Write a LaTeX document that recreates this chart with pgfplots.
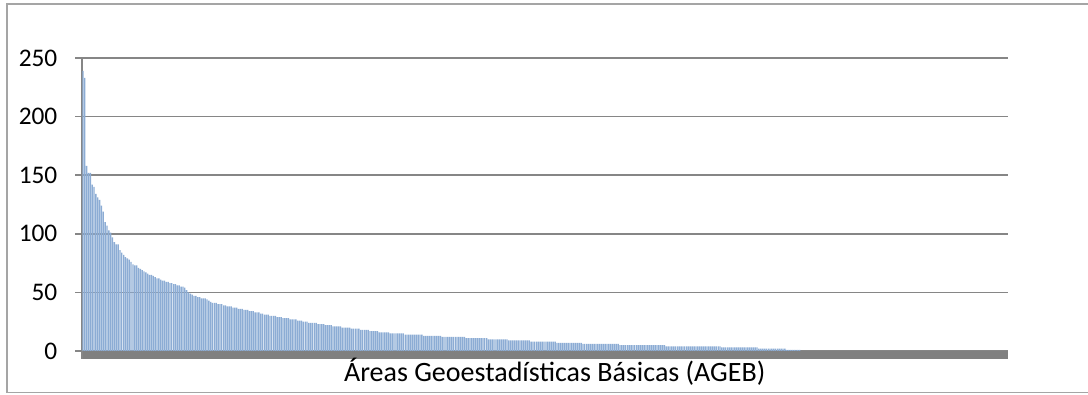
\documentclass[border=0pt]{standalone}
\usepackage{pgfplots}
\pgfplotsset{compat=1.18}
\usepackage{pgfplotstable}
\usepackage{fontspec}
\setmainfont{Carlito}
\definecolor{barblue}{RGB}{140,172,212}
\definecolor{gridgray}{RGB}{134,134,134}
\definecolor{bandgray}{RGB}{128,128,128}
\definecolor{framegray}{RGB}{165,165,165}
\pgfplotstableread[row sep=\\]{
y\\
239\\233\\158\\152\\152\\142\\140\\134\\131\\129\\
124\\119\\110\\107\\103\\101\\97\\93\\91\\91\\
86\\84\\82\\80\\79\\78\\76\\74\\73\\73\\
71\\70\\69\\68\\67\\66\\65\\65\\64\\63\\
62\\62\\61\\60\\60\\59\\59\\58\\58\\57\\
57\\56\\56\\55\\55\\54\\52\\50\\49\\48\\
47\\47\\46\\46\\45\\45\\45\\44\\43\\42\\
41\\41\\41\\40\\40\\40\\39\\39\\38\\38\\
38\\37\\37\\37\\36\\36\\36\\35\\35\\35\\
34\\34\\34\\33\\33\\33\\32\\32\\31\\31\\
31\\30\\30\\30\\30\\29\\29\\29\\28\\28\\
28\\28\\27\\27\\27\\27\\26\\26\\26\\25\\
25\\25\\24\\24\\24\\24\\24\\23\\23\\23\\
23\\22\\22\\22\\22\\21\\21\\21\\21\\21\\
20\\20\\20\\20\\20\\19\\19\\19\\19\\19\\
18\\18\\18\\18\\18\\17\\17\\17\\17\\17\\
16\\16\\16\\16\\16\\16\\15\\15\\15\\15\\
15\\15\\15\\15\\14\\14\\14\\14\\14\\14\\
14\\14\\14\\14\\13\\13\\13\\13\\13\\13\\
13\\13\\13\\13\\12\\12\\12\\12\\12\\12\\
12\\12\\12\\12\\12\\12\\12\\11\\11\\11\\
11\\11\\11\\11\\11\\11\\11\\11\\11\\10\\
10\\10\\10\\10\\10\\10\\10\\10\\10\\10\\
9\\9\\9\\9\\9\\9\\9\\9\\9\\9\\
9\\9\\8\\8\\8\\8\\8\\8\\8\\8\\
8\\8\\8\\8\\8\\8\\7\\7\\7\\7\\
7\\7\\7\\7\\7\\7\\7\\7\\7\\7\\
6\\6\\6\\6\\6\\6\\6\\6\\6\\6\\
6\\6\\6\\6\\6\\6\\6\\6\\6\\6\\
5\\5\\5\\5\\5\\5\\5\\5\\5\\5\\
5\\5\\5\\5\\5\\5\\5\\5\\5\\5\\
5\\5\\5\\5\\5\\4\\4\\4\\4\\4\\
4\\4\\4\\4\\4\\4\\4\\4\\4\\4\\
4\\4\\4\\4\\4\\4\\4\\4\\4\\4\\
4\\4\\4\\4\\4\\3\\3\\3\\3\\3\\
3\\3\\3\\3\\3\\3\\3\\3\\3\\3\\
3\\3\\3\\3\\3\\2\\2\\2\\2\\2\\
2\\2\\2\\2\\2\\2\\2\\2\\2\\2\\
1\\1\\1\\1\\1\\1\\1\\1\\0\\0\\
0\\0\\0\\0\\0\\0\\0\\0\\0\\0\\
0\\0\\0\\0\\0\\0\\0\\0\\0\\0\\
0\\0\\0\\0\\0\\0\\0\\0\\0\\0\\
0\\0\\0\\0\\0\\0\\0\\0\\0\\0\\
0\\0\\0\\0\\0\\0\\0\\0\\0\\0\\
0\\0\\0\\0\\0\\0\\0\\0\\0\\0\\
0\\0\\0\\0\\0\\0\\0\\0\\0\\0\\
0\\0\\0\\0\\0\\0\\0\\0\\0\\0\\
0\\0\\0\\0\\0\\0\\0\\0\\0\\0\\
0\\0\\0\\0\\0\\0\\0\\0\\0\\0\\
0\\0\\0\\0\\0\\0\\0\\0\\0\\0\\
}\agebdata
\begin{document}
\begin{tikzpicture}[x=1pt,y=1pt]
\path[use as bounding box] (0,0) rectangle (816,295.5);
\draw[framegray, line width=1.1pt] (830,292.5) -- (5.25,292.5) -- (5.25,1.2) -- (830,1.2);
\begin{axis}[
  at={(61.5pt,32.25pt)}, anchor=south west,
  scale only axis, width=694.5pt, height=219.75pt,
  xmin=-0.5, xmax=499.5, ymin=0, ymax=250,
  ytick={0,50,100,150,200,250}, xtick=\empty,
  axis y line*=left, axis x line=none,
  y axis line style={gridgray, line width=1.6pt, -},
  ymajorgrids, grid style={gridgray, line width=1.1pt},
  tick align=outside, major tick length=5pt,
  tick style={gridgray, line width=1.1pt},
  /pgf/number format/assume math mode=true,
  yticklabel style={font=\fontsize{19}{22}\selectfont, text=black, xshift=-10pt},
  clip=false,
]
\addplot[ybar, fill=barblue, draw=none, bar width=0.72] table[x expr=\coordindex, y=y] {\agebdata};
\fill[bandgray] (axis cs:-0.5,0) rectangle (axis cs:499.5,-6.8);
\draw[gridgray, line width=1.6pt] (axis cs:-0.5,0) -- (axis cs:-0.5,-6.8);
\end{axis}
\node[font=\fontsize{21}{24}\selectfont] at (416,16.5) {Áreas Geoestadísticas Básicas (AGEB)};
\end{tikzpicture}
\end{document}
